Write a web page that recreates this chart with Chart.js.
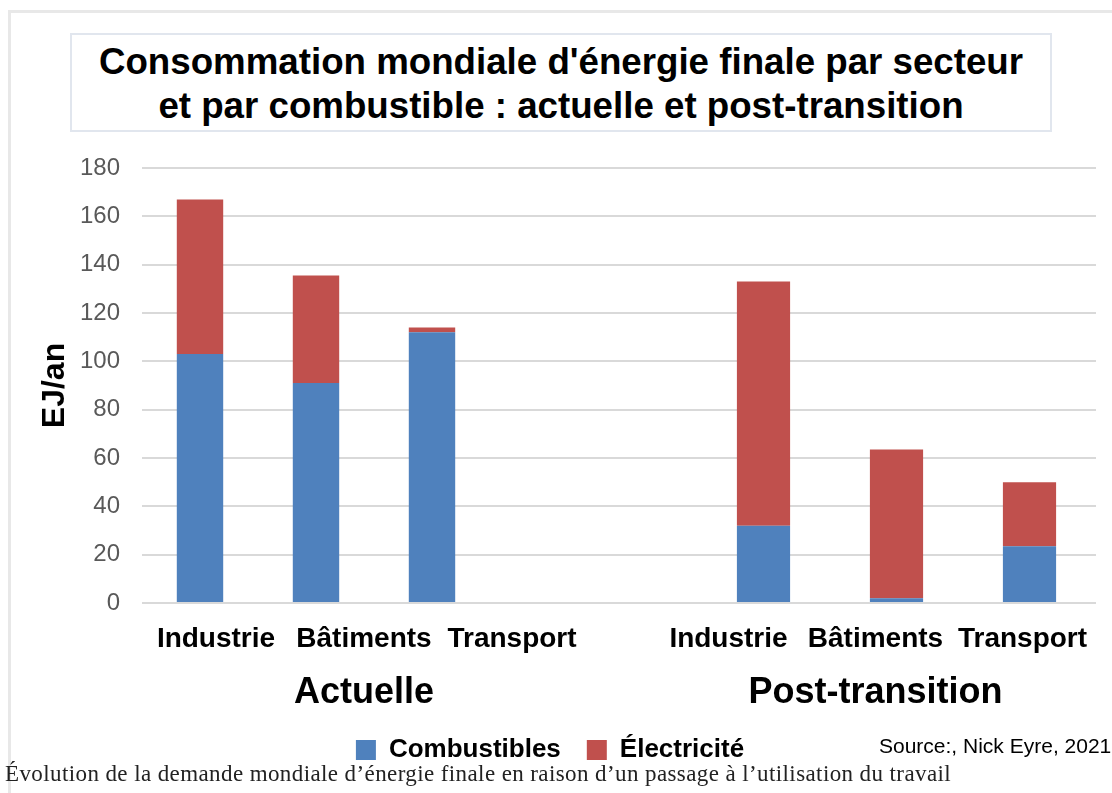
<!DOCTYPE html>
<html lang="fr">
<head>
<meta charset="utf-8">
<title>Consommation mondiale d'énergie finale</title>
<script src="https://cdn.jsdelivr.net/npm/chart.js@4.4.1/dist/chart.umd.min.js"></script>
<style>
  html, body { margin: 0; padding: 0; background: #fff; }
  body { width: 1112px; height: 793px; position: relative; overflow: hidden; font-family: "Liberation Sans", Arial, sans-serif; }
  .cadre { position: absolute; left: 8px; top: 10px; width: 1120px; height: 800px; border-left: 3px solid #e8e8e8; border-top: 3px solid #e8e8e8; }
  .titre { position: absolute; left: 70px; top: 33px; width: 982px; height: 99px; box-sizing: border-box; border: 2px solid #e1e6ee;
           text-align: center; font-weight: bold; font-size: 36.7px; line-height: 44px; padding-top: 5px; color: #000; }
  #zone { position: absolute; left: 0; top: 140px; width: 1112px; height: 642px; }
  .source { position: absolute; left: 879px; top: 734px; font-size: 21px; line-height: 24px; color: #000; }
  .legende { position: absolute; left: 5px; top: 761px; font-family: "Liberation Serif", "DejaVu Serif", serif; font-size: 23px; letter-spacing: 0.4px;
             line-height: 26px; white-space: nowrap; color: #222; }
</style>
</head>
<body>
<div class="cadre"></div>
<div class="titre">Consommation mondiale d'énergie finale par secteur<br>et par combustible : actuelle et post-transition</div>
<div id="zone"><canvas id="graphe"></canvas></div>
<div class="source">Source:, Nick Eyre, 2021</div>
<div class="legende">Évolution de la demande mondiale d’énergie finale en raison d’un passage à l’utilisation du travail</div>

<script>
// valeurs (EJ/an)
const secteursActuelle = ['Industrie', 'Bâtiments', 'Transport'];
const secteursPost = ['Industrie', 'Bâtiments', 'Transport'];
const groupes = ['Actuelle', 'Post-transition'];
const combustiblesActuelle = [103, 91, 112];
const electriciteActuelle = [64, 44.5, 2];
const combustiblesPost = [32, 2, 23.5];
const electricitePost = [101, 61.5, 26.5];
const yMin = 0, yMax = 180, yPas = 20;

const BLEU = '#4f81bd';
const ROUGE = '#c0504d';

Chart.defaults.font.family = "'Liberation Sans', Arial, sans-serif";

// pas de marge auto pour les libellés qui débordent
const sansMarge = s => { s.paddingLeft = 0; s.paddingRight = 0; s.paddingTop = 0; s.paddingBottom = 0; };

// axes des barres (ligne "bas"), libellés cachés
const axeBarres = (labels, poids) => ({
  type: 'category', labels: labels, position: 'bottom',
  stack: 'bas', stackWeight: poids, stacked: true, offset: true,
  grid: { display: false, drawTicks: false }, border: { display: false },
  ticks: { display: false },
  afterFit: sansMarge
});

// axes des libellés (ligne "etiq"), avec le titre du groupe
const axeLibelles = (labels, poids, titre) => ({
  type: 'category', labels: labels, position: 'bottom',
  stack: 'etiq', stackWeight: poids, offset: true,
  grid: { display: false, drawTicks: false }, border: { display: false },
  ticks: { color: '#000', font: { size: 28, weight: 'bold' }, padding: 19, maxRotation: 0, autoSkip: false },
  title: { display: !!titre, text: titre, color: '#000', font: { size: 36, weight: 'bold' }, padding: { top: 0, bottom: -4 } },
  afterFit: s => { sansMarge(s); s.height = 108; }
});

new Chart(document.getElementById('graphe'), {
  type: 'bar',
  data: {
    datasets: [
      { label: 'Combustibles', data: combustiblesActuelle, backgroundColor: BLEU, xAxisID: 'xA' },
      { label: 'Électricité', data: electriciteActuelle, backgroundColor: ROUGE, xAxisID: 'xA' },
      { label: 'Combustibles', data: combustiblesPost, backgroundColor: BLEU, xAxisID: 'xP' },
      { label: 'Électricité', data: electricitePost, backgroundColor: ROUGE, xAxisID: 'xP' }
    ]
  },
  options: {
    responsive: true,
    maintainAspectRatio: false,
    animation: false,
    layout: { padding: { left: 4, right: 16, top: 28, bottom: 9 } },
    datasets: { bar: { grouped: false, barPercentage: 0.4, categoryPercentage: 1.0 } },
    plugins: {
      tooltip: { enabled: false },
      legend: {
        position: 'bottom',
        labels: {
          filter: item => item.datasetIndex < 2,
          boxWidth: 20, boxHeight: 20, padding: 26,
          color: '#000', font: { size: 26, weight: 'bold' }
        }
      }
    },
    scales: {
      xA: axeBarres(secteursActuelle, 348),
      xVide: axeBarres([''], 207),
      xP: axeBarres(secteursPost, 399),
      lA: axeLibelles(secteursActuelle, 444, groupes[0]),
      lVide: axeLibelles([''], 69, ''),
      lP: axeLibelles(secteursPost, 441, groupes[1]),
      y: {
        stacked: true,
        min: yMin, max: yMax,
        ticks: { stepSize: yPas, color: '#595959', font: { size: 24 }, padding: 22 },
        grid: { color: '#d9d9d9', lineWidth: 2, drawTicks: false },
        border: { display: false },
        title: { display: true, text: 'EJ/an', color: '#000', font: { size: 32, weight: 'bold' }, padding: { top: 32, bottom: 4 } },
        afterFit: s => { sansMarge(s); s.width = 138; }
      }
    }
  }
});
</script>
</body>
</html>
